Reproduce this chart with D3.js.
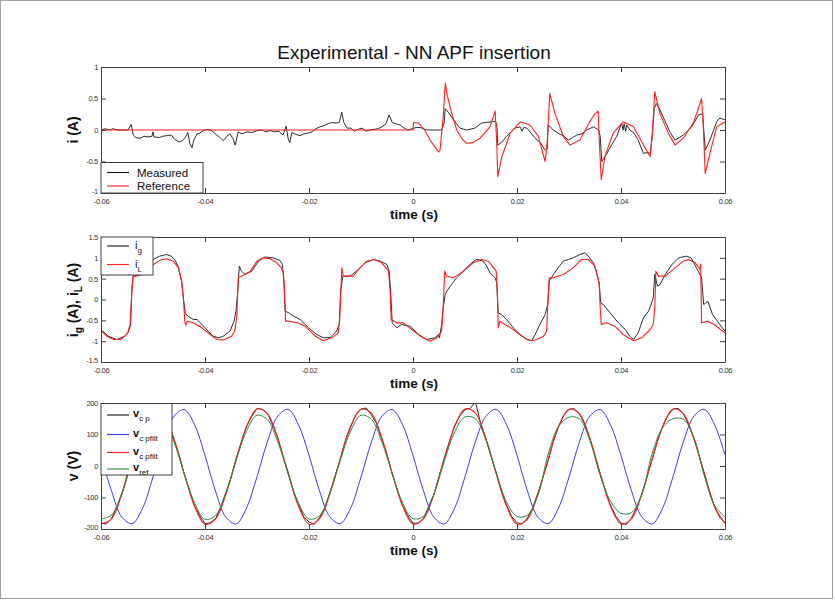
<!DOCTYPE html>
<html>
<head>
<meta charset="utf-8">
<script src="https://cdn.jsdelivr.net/npm/d3@7"></script>
<style>
  html, body { margin: 0; padding: 0; background: #fff; }
  svg { display: block; font-family: "Liberation Sans", Arial, Helvetica, sans-serif; }
</style>
</head>
<body>
<svg id="fig" width="835" height="601"></svg>
<script>
// ---------- shared axis ticks ----------
const timeTicks = [-0.06, -0.04, -0.02, 0, 0.02, 0.04, 0.06];
const timeTickLabels = ["-0.06", "-0.04", "-0.02", "0", "0.02", "0.04", "0.06"];

// ---------- panel 1 : compensation current i (A) ----------
const iTicks = [-1, -0.5, 0, 0.5, 1];
const iTickLabels = ["-1", "-0.5", "0", "0.5", "1"];
const iMeasured = [
  [-0.06,0],[-0.0592,0.02],[-0.0583,0],[-0.0577,0.02],[-0.0567,0],[-0.0556,0],[-0.0548,0],
  [-0.0542,0.09],[-0.0538,-0.08],[-0.0533,-0.12],[-0.0525,-0.13],[-0.0517,-0.1],[-0.051,-0.11],
  [-0.0502,-0.1],[-0.05,-0.03],[-0.0498,-0.11],[-0.0488,-0.12],[-0.0481,-0.1],[-0.0473,-0.09],
  [-0.0465,-0.08],[-0.0458,-0.15],[-0.045,-0.19],[-0.0444,-0.17],[-0.0438,-0.12],[-0.0433,-0.04],
  [-0.0429,-0.22],[-0.0425,-0.28],[-0.0421,-0.15],[-0.0415,-0.06],[-0.041,-0.05],[-0.0402,0],
  [-0.0394,0.01],[-0.0387,-0.01],[-0.0379,-0.07],[-0.0371,-0.12],[-0.0365,-0.17],[-0.0358,-0.1],
  [-0.0352,-0.06],[-0.0346,-0.14],[-0.0342,-0.24],[-0.0336,-0.03],[-0.0329,-0.06],[-0.0319,-0.03],
  [-0.031,-0.04],[-0.03,-0.01],[-0.029,0],[-0.0283,-0.03],[-0.0275,-0.01],[-0.0265,-0.03],
  [-0.0258,-0.02],[-0.025,-0.08],[-0.0244,0.06],[-0.024,-0.14],[-0.0237,-0.2],[-0.0233,-0.04],
  [-0.0225,-0.07],[-0.0217,-0.09],[-0.021,-0.06],[-0.0202,-0.05],[-0.0194,-0.03],[-0.0187,0.02],
  [-0.0179,0.05],[-0.0171,0.07],[-0.0163,0.1],[-0.0156,0.12],[-0.0148,0.11],[-0.0142,0.12],
  [-0.0137,0.28],[-0.0133,0.12],[-0.0127,0.03],[-0.0119,0.03],[-0.0113,-0.02],[-0.0106,0.01],
  [-0.0098,0.03],[-0.009,-0.02],[-0.0083,0],[-0.0075,0.01],[-0.0067,0.02],[-0.006,0.05],
  [-0.0052,0.1],[-0.0046,0.24],[-0.004,0.12],[-0.0033,0.1],[-0.0025,0.08],[-0.0017,0.03],
  [-0.001,0],[-0.0002,0.02],[0.0006,0.04],[0.0014,0.04],[0.0026,0],[0.004,0],[0.0055,0],
  [0.006,0.12],[0.0062,0.34],[0.0068,0.28],[0.0078,0.16],[0.009,0.03],[0.0103,0],[0.0119,0.03],
  [0.0132,0.11],[0.0142,0.12],[0.0151,0.13],[0.0158,0.14],[0.0161,0.1],[0.0163,-0.24],
  [0.017,-0.2],[0.018,-0.1],[0.0196,0.03],[0.0206,0.05],[0.021,-0.02],[0.0213,0.04],[0.0219,0.03],
  [0.0235,-0.13],[0.0245,-0.2],[0.0254,-0.32],[0.0258,-0.3],[0.026,0.08],[0.027,0],[0.0279,-0.05],
  [0.029,-0.1],[0.0299,-0.16],[0.0307,-0.12],[0.0315,-0.08],[0.0325,-0.06],[0.0334,0],[0.0347,0.05],
  [0.0357,0],[0.036,-0.1],[0.0363,-0.5],[0.0373,-0.37],[0.0383,-0.22],[0.0392,-0.1],[0.0401,0.11],
  [0.0404,0],[0.0406,0.1],[0.0409,-0.02],[0.0411,0.08],[0.0417,0],[0.0425,-0.05],[0.0433,-0.16],
  [0.0443,-0.37],[0.045,-0.36],[0.0456,-0.37],[0.046,-0.1],[0.0464,0.34],[0.0468,0.42],
  [0.0475,0.32],[0.0481,0.21],[0.0494,-0.03],[0.0504,-0.16],[0.0512,-0.12],[0.052,-0.08],
  [0.0536,0.05],[0.0549,0.24],[0.0557,0.26],[0.0562,-0.32],[0.0571,-0.16],[0.0584,0.13],
  [0.059,0.19],[0.06,0.16]
];
const iReference = [
  [-0.06,0],[0,0],[0.0001,0.12],[0.0011,0.11],[0.0022,0],[0.0033,-0.16],[0.0043,-0.28],
  [0.0049,-0.35],[0.0052,-0.32],[0.0058,0.2],[0.0062,0.74],[0.0066,0.55],[0.0071,0.37],
  [0.0084,0],[0.0095,-0.15],[0.0103,-0.21],[0.0115,-0.2],[0.0129,-0.13],[0.0148,0.05],
  [0.0155,0.22],[0.0158,0.3],[0.0161,-0.2],[0.0163,-0.74],[0.0171,-0.42],[0.0187,-0.05],
  [0.0206,0.13],[0.0225,0.08],[0.0241,-0.1],[0.0254,-0.5],[0.0258,-0.2],[0.0263,0.58],
  [0.0273,0.26],[0.0289,-0.1],[0.0302,-0.24],[0.0321,-0.16],[0.034,0.13],[0.035,0.26],
  [0.0356,0.3],[0.0359,-0.3],[0.0362,-0.79],[0.0369,-0.42],[0.0385,-0.05],[0.0404,0.13],
  [0.0424,0.05],[0.044,-0.19],[0.0456,-0.42],[0.046,-0.1],[0.0465,0.61],[0.0475,0.26],
  [0.0491,-0.05],[0.0504,-0.24],[0.052,-0.13],[0.0539,0.11],[0.0552,0.42],[0.0555,0.5],
  [0.0558,0.1],[0.0562,-0.69],[0.0571,-0.37],[0.0584,0.05],[0.06,0.13]
];

// ---------- panel 2 : grid and load currents ----------
const igTicks = [-1.5, -1, -0.5, 0, 0.5, 1, 1.5];
const igTickLabels = ["-1.5", "-1", "-0.5", "0", "0.5", "1", "1.5"];
const iGrid = [
  [-0.06,-0.72],[-0.0586,-0.88],[-0.057,-0.96],[-0.0554,-0.88],[-0.0548,-0.8],[-0.0543,-0.6],
  [-0.0541,0.2],[-0.0538,0.56],[-0.0525,0.6],[-0.0512,0.8],[-0.05,0.96],[-0.0487,1.04],
  [-0.0474,1.08],[-0.0465,1.04],[-0.0458,0.96],[-0.0452,0.8],[-0.0445,0.44],[-0.0441,-0.04],
  [-0.0438,-0.32],[-0.0433,-0.4],[-0.0422,-0.48],[-0.0415,-0.48],[-0.0406,-0.6],[-0.0394,-0.76],
  [-0.0384,-0.88],[-0.0374,-0.92],[-0.0365,-0.88],[-0.0352,-0.76],[-0.0344,-0.52],[-0.034,-0.24],
  [-0.0337,0.2],[-0.0334,0.8],[-0.033,0.68],[-0.0323,0.6],[-0.031,0.68],[-0.0297,0.92],
  [-0.0285,1.02],[-0.0269,1.0],[-0.0256,0.94],[-0.0251,0.84],[-0.0248,0.36],[-0.0246,-0.28],
  [-0.0239,-0.32],[-0.023,-0.4],[-0.0217,-0.48],[-0.0201,-0.68],[-0.0185,-0.84],[-0.0172,-0.92],
  [-0.0159,-0.91],[-0.0147,-0.76],[-0.0142,-0.6],[-0.0139,0.2],[-0.0135,0.56],[-0.0121,0.56],
  [-0.0105,0.72],[-0.0092,0.88],[-0.0076,0.96],[-0.0063,0.92],[-0.005,0.84],[-0.0046,0.68],
  [-0.0043,0.2],[-0.004,-0.56],[-0.0031,-0.68],[-0.0022,-0.6],[-0.0006,-0.64],[0.0011,-0.84],
  [0.0026,-0.96],[0.0042,-0.92],[0.0049,-0.84],[0.0051,-0.92],[0.0055,-0.6],[0.0058,-0.2],
  [0.0062,0.12],[0.0065,0.2],[0.0074,0.36],[0.0084,0.52],[0.0094,0.64],[0.0106,0.8],
  [0.0119,0.94],[0.0125,0.96],[0.0135,0.92],[0.0142,0.8],[0.0148,0.64],[0.0158,0.52],
  [0.0161,0.4],[0.0164,-0.32],[0.017,-0.36],[0.018,-0.48],[0.0193,-0.68],[0.0206,-0.84],
  [0.0219,-0.96],[0.0228,-0.99],[0.0235,-0.84],[0.0244,-0.6],[0.0254,-0.36],[0.0259,-0.12],
  [0.0262,0.44],[0.027,0.6],[0.0279,0.76],[0.0289,0.92],[0.0299,0.96],[0.0308,1.0],
  [0.0321,1.08],[0.0331,1.12],[0.0337,1.04],[0.0347,0.88],[0.0353,0.64],[0.0358,0.4],
  [0.0361,-0.08],[0.0366,-0.12],[0.0379,-0.32],[0.0395,-0.56],[0.0408,-0.72],[0.0417,-0.88],
  [0.0424,-0.96],[0.0433,-0.8],[0.0443,-0.44],[0.0453,-0.28],[0.0459,-0.08],[0.0462,0.04],
  [0.0465,0.6],[0.047,0.32],[0.0475,0.36],[0.0485,0.6],[0.0498,0.84],[0.0511,1.0],
  [0.0526,1.04],[0.0535,1.0],[0.0545,0.76],[0.0555,0.52],[0.0559,-0.12],[0.0563,-0.08],
  [0.0567,-0.04],[0.0576,-0.36],[0.059,-0.6],[0.06,-0.76]
];
const iLoad = [
  [-0.06,-0.75],[-0.0589,-0.88],[-0.0576,-0.96],[-0.0563,-0.96],[-0.0554,-0.88],[-0.0548,-0.78],
  [-0.0546,-0.68],[-0.0544,-0.62],[-0.0542,-0.12],[-0.0539,0.52],[-0.0537,0.64],[-0.0534,0.55],
  [-0.0522,0.6],[-0.0512,0.68],[-0.0499,0.84],[-0.0487,0.94],[-0.0474,0.98],[-0.0461,0.92],
  [-0.0451,0.76],[-0.0445,0.44],[-0.0441,-0.04],[-0.0439,-0.52],[-0.0437,-0.62],[-0.0434,-0.52],
  [-0.0422,-0.56],[-0.0406,-0.68],[-0.039,-0.84],[-0.0377,-0.96],[-0.0365,-0.97],[-0.0349,-0.88],
  [-0.0343,-0.76],[-0.0339,-0.44],[-0.0336,0.52],[-0.033,0.56],[-0.0313,0.68],[-0.03,0.92],
  [-0.0288,1.0],[-0.0275,0.98],[-0.0262,0.88],[-0.0253,0.76],[-0.0249,0.62],[-0.0247,0.2],
  [-0.0245,-0.52],[-0.0239,-0.52],[-0.0222,-0.56],[-0.0208,-0.64],[-0.0188,-0.88],[-0.0172,-0.99],
  [-0.0156,-0.92],[-0.0144,-0.8],[-0.0141,-0.5],[-0.0138,0.44],[-0.0137,0.76],[-0.0134,0.56],
  [-0.0115,0.56],[-0.0102,0.76],[-0.0089,0.92],[-0.0073,0.96],[-0.006,0.88],[-0.0047,0.68],
  [-0.0044,0.2],[-0.0042,-0.48],[-0.0031,-0.56],[-0.0019,-0.56],[-0.0002,-0.72],[0.0014,-0.88],
  [0.0026,-0.96],[0.0033,-1.0],[0.0046,-0.92],[0.0055,-0.76],[0.0058,-0.2],[0.0061,0.68],
  [0.0065,0.56],[0.0078,0.52],[0.0097,0.68],[0.0116,0.88],[0.0132,0.96],[0.0145,0.92],
  [0.0155,0.76],[0.016,0.68],[0.0162,0.2],[0.0164,-0.68],[0.0167,-0.52],[0.0177,-0.6],
  [0.0193,-0.72],[0.0209,-0.88],[0.0225,-0.99],[0.0238,-0.96],[0.0251,-0.88],[0.0257,-0.76],
  [0.0259,-0.2],[0.0262,0.52],[0.027,0.52],[0.0289,0.6],[0.0308,0.76],[0.0324,0.96],
  [0.0337,0.96],[0.035,0.8],[0.0358,0.4],[0.036,-0.2],[0.0362,-0.6],[0.0372,-0.56],
  [0.0388,-0.64],[0.0404,-0.84],[0.0424,-0.99],[0.044,-0.92],[0.0456,-0.72],[0.0462,-0.6],
  [0.0465,-0.2],[0.0467,0.68],[0.0472,0.56],[0.0485,0.56],[0.0504,0.76],[0.052,0.92],
  [0.053,0.96],[0.0543,0.88],[0.0552,0.72],[0.0553,0.85],[0.0554,0.2],[0.0555,-0.56],
  [0.0567,-0.52],[0.0579,-0.6],[0.06,-0.8]
];

// ---------- panel 3 : capacitor and reference voltages ----------
const vTicks = [-200, -100, 0, 100, 200];
const vTickLabels = ["-200", "-100", "0", "100", "200"];
const tCoarse = [-0.06,-0.058,-0.056,-0.054,-0.052,-0.05,-0.048,-0.046,-0.044,-0.042,
  -0.04,-0.038,-0.036,-0.034,-0.032,-0.03,-0.028,-0.026,-0.024,-0.022,
  -0.02,-0.018,-0.016,-0.014,-0.012,-0.01,-0.008,-0.006,-0.004,-0.002,
  0,0.002,0.004,0.006,0.008,0.01,0.012,0.014,0.016,0.018,
  0.02,0.022,0.024,0.026,0.028,0.03,0.032,0.034,0.036,0.038,
  0.04,0.042,0.044,0.046,0.048,0.05,0.052,0.054,0.056,0.058,0.06];
const vFiltShift = [34,-78,-162,-183,-134,-35,76,157,179,131,
  33,-79,-162,-184,-133,-34,77,158,180,130,
  34,-78,-161,-183,-134,-35,76,157,179,131,
  33,-78,-162,-184,-134,-34,77,157,180,131,
  34,-79,-162,-183,-133,-35,76,158,179,130,
  33,-78,-161,-184,-134,-34,77,157,180,131,35];
const vFilt = [-184,-168,-90,22,126,180,167,88,-24,-128,
  -185,-169,-91,21,125,181,166,87,-25,-129,
  -185,-168,-90,22,126,180,167,89,-23,-127,
  -184,-168,-91,21,125,181,168,88,-24,-128,
  -185,-169,-90,22,126,180,166,88,-25,-128,
  -184,-168,-90,22,125,181,166,87,-24,-129,-182];
const vRef = [-168,-156,-86,16,110,160,148,78,-24,-118,
  -169,-157,-85,18,112,161,147,76,-25,-119,
  -168,-158,-86,17,111,161,148,77,-24,-118,
  -167,-160,-90,14,108,156,150,84,-20,-115,
  -160,-156,-94,38,126,155,150,82,-30,-112,
  -150,-148,-90,40,122,150,148,92,-30,-125,-162];
const tFine = [-0.06,-0.059,-0.058,-0.057,-0.056,-0.055,-0.054,-0.053,-0.052,-0.051,
  -0.05,-0.049,-0.048,-0.047,-0.046,-0.045,-0.044,-0.043,-0.042,-0.041,
  -0.04,-0.039,-0.038,-0.037,-0.036,-0.035,-0.034,-0.033,-0.032,-0.031,
  -0.03,-0.029,-0.028,-0.027,-0.026,-0.025,-0.024,-0.023,-0.022,-0.021,
  -0.02,-0.019,-0.018,-0.017,-0.016,-0.015,-0.014,-0.013,-0.012,-0.011,
  -0.01,-0.009,-0.008,-0.007,-0.006,-0.005,-0.004,-0.003,-0.002,-0.001,
  0,0.001,0.002,0.003,0.004,0.005,0.006,0.007,0.008,0.009,
  0.01,0.011,0.012,0.013,0.014,0.015,0.016,0.017,0.018,0.019,
  0.02,0.021,0.022,0.023,0.024,0.025,0.026,0.027,0.028,0.029,
  0.03,0.031,0.032,0.033,0.034,0.035,0.036,0.037,0.038,0.039,
  0.04,0.041,0.042,0.043,0.044,0.045,0.046,0.047,0.048,0.049,
  0.05,0.051,0.052,0.053,0.054,0.055,0.056,0.057,0.058,0.059,0.06];
const vCap = [-181,-184,-168,-130,-90,-30,20,80,122,163,178,183,164,136,85,36,-26,-75,-128,-158,
  -183,-180,-168,-131,-86,-37,25,76,127,158,183,180,168,130,90,31,-20,-80,-122,-162,
  -178,-185,-164,-135,-85,-32,21,81,123,162,181,184,162,135,86,37,-25,-76,-127,-157,
  -182,-181,-167,-129,-91,-33,24,77,128,159,179,183,204,136,87,30,-22,-81,-124,-161,
  -180,-184,-165,-133,-87,-35,17,79,124,161,180,182,165,134,88,33,-24,-79,-126,-159,
  -181,-186,-166,-132,-89,-34,23,78,126,160,181,183,166,131,89,35,-21,-78,-131,-163,-180];

// ---------- figure ----------
const svg = d3.select("#fig");
svg.append("rect").attr("x", 0.5).attr("y", 0.5).attr("width", 832).attr("height", 598)
  .attr("fill", "#fff").attr("stroke", "#a0a0a0").attr("stroke-width", 1);

svg.append("text").attr("x", 414).attr("y", 59).attr("text-anchor", "middle")
  .attr("font-size", 19).attr("fill", "#111").text("Experimental - NN APF insertion");

const left = 101, right = 725;
const x = d3.scaleLinear().domain([-0.06, 0.06]).range([left, right]);
const frameColor = "#404040";

function makePanel(id, top, bottom, yDomain, yTicks, yLabels) {
  const y = d3.scaleLinear().domain(yDomain).range([bottom, top]);
  const g = svg.append("g");
  g.append("clipPath").attr("id", id).append("rect")
    .attr("x", left).attr("y", top).attr("width", right - left).attr("height", bottom - top);
  const plot = g.append("g").attr("clip-path", `url(#${id})`);
  const axes = g.append("g");
  const styleAxis = sel => {
    sel.selectAll("path.domain").attr("stroke", frameColor).attr("stroke-width", 1);
    sel.selectAll(".tick line").attr("stroke", frameColor);
    sel.selectAll(".tick text").attr("fill", "#333").attr("font-size", 7.5)
      .attr("font-family", "'Liberation Sans', Arial, sans-serif").style("letter-spacing", "-0.3px");
  };
  axes.append("g").attr("transform", `translate(0,${bottom})`)
    .call(d3.axisBottom(x).tickValues(timeTicks).tickFormat((d, i) => timeTickLabels[i])
      .tickSizeInner(-5).tickSizeOuter(0).tickPadding(5.5)).call(styleAxis);
  axes.append("g").attr("transform", `translate(0,${top})`)
    .call(d3.axisTop(x).tickValues(timeTicks).tickFormat("").tickSizeInner(-5).tickSizeOuter(0))
    .call(styleAxis);
  axes.append("g").attr("transform", `translate(${left},0)`)
    .call(d3.axisLeft(y).tickValues(yTicks).tickFormat((d, i) => yLabels[i])
      .tickSizeInner(-5).tickSizeOuter(0).tickPadding(3)).call(styleAxis);
  axes.append("g").attr("transform", `translate(${right},0)`)
    .call(d3.axisRight(y).tickValues(yTicks).tickFormat("").tickSizeInner(-5).tickSizeOuter(0))
    .call(styleAxis);
  // lowest y label sits a touch higher so it clears the first time label
  axes.selectAll(".tick text").filter(d => d === yDomain[0]).attr("dy", "0.1em");
  g.append("text").attr("x", 414).attr("y", bottom + 26).attr("text-anchor", "middle")
    .attr("font-size", 13.5).attr("font-weight", "bold").attr("fill", "#111").text("time (s)");
  return { y, plot, g };
}

function drawLine(p, data, color, width, curve) {
  p.plot.append("path").datum(data)
    .attr("fill", "none").attr("stroke", color).attr("stroke-width", width)
    .attr("stroke-linejoin", "round")
    .attr("d", d3.line().x(d => x(d[0])).y(d => p.y(d[1])).curve(curve || d3.curveLinear));
}

function legendBox(p, x0, y0, w, h) {
  return p.g.append("rect").attr("x", x0).attr("y", y0).attr("width", w).attr("height", h)
    .attr("fill", "#fff").attr("stroke", frameColor).attr("stroke-width", 1);
}
function legendSwatch(p, yy, color) {
  p.g.append("line").attr("x1", 107).attr("x2", 129).attr("y1", yy).attr("y2", yy)
    .attr("stroke", color).attr("stroke-width", 1.1);
}

const BLACK = "#151515", RED = "#ff1f1f", BLUE = "#3b3bf2", GREEN = "#2b8b3c";

// Panel 1
const p1 = makePanel("clip1", 67, 193, [-1, 1], iTicks, iTickLabels);
drawLine(p1, iMeasured, BLACK, 0.9);
drawLine(p1, iReference, RED, 1.1);
p1.g.append("text").attr("transform", "translate(78,130) rotate(-90)").attr("text-anchor", "middle")
  .attr("font-size", 14).attr("font-weight", "bold").attr("fill", "#111").text("i (A)");
legendBox(p1, 101, 162.5, 102, 30.5);
legendSwatch(p1, 172.5, BLACK);
legendSwatch(p1, 186, RED);
p1.g.append("text").attr("x", 137).attr("y", 176.5).attr("font-size", 11.5).attr("fill", "#111").text("Measured");
p1.g.append("text").attr("x", 137).attr("y", 190).attr("font-size", 11.5).attr("fill", "#111").text("Reference");

// Panel 2
const p2 = makePanel("clip2", 237, 362, [-1.5, 1.5], igTicks, igTickLabels);
drawLine(p2, iGrid, BLACK, 0.9);
drawLine(p2, iLoad, RED, 1.1);
const yl2 = p2.g.append("text").attr("transform", "translate(78,300) rotate(-90)")
  .attr("text-anchor", "middle").attr("font-size", 14).attr("font-weight", "bold").attr("fill", "#111");
yl2.append("tspan").text("i");
yl2.append("tspan").attr("font-size", 10).attr("dy", 4).text("g");
yl2.append("tspan").attr("dy", -4).text(" (A), i");
yl2.append("tspan").attr("font-size", 10).attr("dy", 4).text("L");
yl2.append("tspan").attr("dy", -4).text(" (A)");
legendBox(p2, 101, 237, 52, 38);
legendSwatch(p2, 246, BLACK);
legendSwatch(p2, 264.5, RED);
[["g", 249], ["L", 267.5]].forEach(([s, yy]) => {
  const t = p2.g.append("text").attr("x", 135).attr("y", yy).attr("font-size", 11).attr("fill", "#111");
  t.append("tspan").text("i");
  t.append("tspan").attr("font-size", 8).attr("dy", 4).text(s);
});

// Panel 3
const p3 = makePanel("clip3", 403, 529, [-200, 200], vTicks, vTickLabels);
drawLine(p3, d3.zip(tFine, vCap), BLACK, 0.9);
drawLine(p3, d3.zip(tCoarse, vFiltShift), BLUE, 1, d3.curveCatmullRom);
drawLine(p3, d3.zip(tCoarse, vFilt), RED, 1.1, d3.curveCatmullRom);
drawLine(p3, d3.zip(tCoarse, vRef), GREEN, 1, d3.curveCatmullRom);
p3.g.append("text").attr("transform", "translate(78,466) rotate(-90)").attr("text-anchor", "middle")
  .attr("font-size", 14).attr("font-weight", "bold").attr("fill", "#111").text("v (V)");
legendBox(p3, 101, 403.5, 71, 71.5);
const legend3 = [["c p", BLACK, 415], ["c pfilt", BLUE, 434.5], ["c pfilt", RED, 452.5], ["ref", GREEN, 469]];
legend3.forEach(([s, c, yy]) => {
  legendSwatch(p3, yy, c);
  const t = p3.g.append("text").attr("x", 133).attr("y", yy + 2).attr("font-size", 11).attr("fill", "#111");
  t.append("tspan").attr("font-weight", "bold").text("v");
  t.append("tspan").attr("font-size", 8).attr("dy", 4).text(s);
});
</script>
</body>
</html>
